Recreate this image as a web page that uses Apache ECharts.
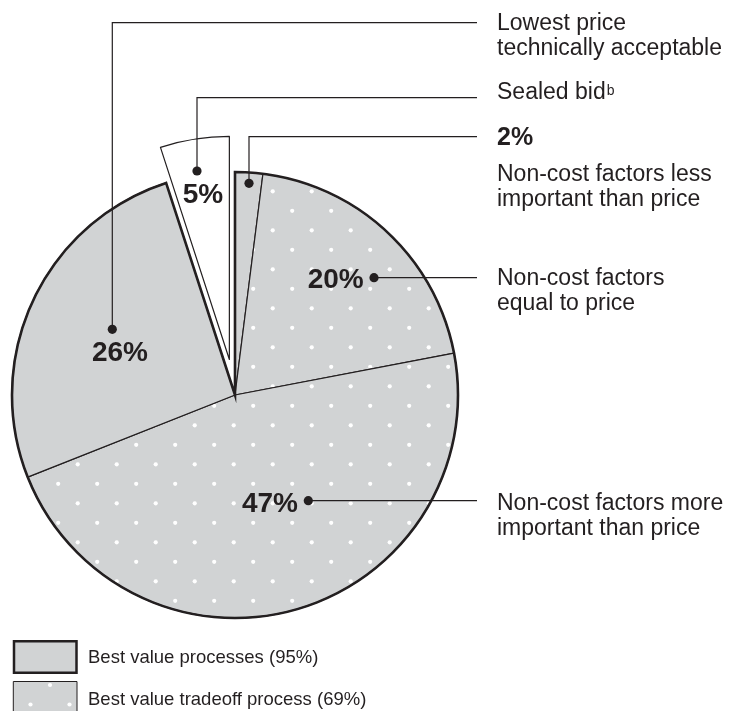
<!DOCTYPE html>
<html><head><meta charset="utf-8">
<script src="https://cdn.jsdelivr.net/npm/echarts@6/dist/echarts.min.js"></script>
<style>html,body{margin:0;padding:0;background:#fff}#c{width:734px;height:711px}</style>
</head><body><div id="c"></div>
<script>
// ---- data ----
const categories = [
  'Non-cost factors less important than price',
  'Non-cost factors equal to price',
  'Non-cost factors more important than price',
  'Lowest price technically acceptable',
  'Sealed bid'
];
const values = [2, 20, 47, 26, 5];
const calloutText = [
  ['Non-cost factors less', 'important than price'],
  ['Non-cost factors', 'equal to price'],
  ['Non-cost factors more', 'important than price'],
  ['Lowest price', 'technically acceptable'],
  ['Sealed bid']
];
const footnoteMark = ['', '', '', '', 'b'];
const legendLabels = ['Best value processes (95%)', 'Best value tradeoff process (69%)'];

// ---- styles ----
const INK = '#231f20';
const GRAY = '#d1d3d4';
const FONT = '"Liberation Sans", Arial, Helvetica, sans-serif';

function dotTile(pts) {
  const c = document.createElement('canvas');
  c.width = 39; c.height = 39;
  const g = c.getContext('2d');
  g.fillStyle = GRAY; g.fillRect(0, 0, 39, 39);
  g.fillStyle = '#ffffff';
  for (const [x, y] of pts) for (const dx of [-39, 0, 39]) for (const dy of [-39, 0, 39]) {
    g.beginPath(); g.arc(x + dx, y + dy, 2.1, 0, Math.PI * 2); g.fill();
  }
  return c;
}
const piePattern = { image: dotTile([[38.7, 35.3], [19.2, 15.8]]), repeat: 'repeat' };
const legendPattern = { image: dotTile([[11, 22], [30.5, 2.5]]), repeat: 'repeat' };
const sliceFill = [GRAY, piePattern, piePattern, GRAY, '#ffffff'];

const CENTER = [235, 395];
const RADIUS = 223;

// Best value processes = all but sealed bid
const bestValueTotal = values.slice(0, 4).reduce((a, b) => a + b, 0);
const groupValues = [bestValueTotal, values[4]];

// ---- annotation layout (label anchors) ----
const RIGHT_X = 497, LINE_END = 477;
const callouts = [
  { pct: [497, 138.5], pctAlign: 'left', pctSize: 25, dot: [249, 183.3], path: [[249, 183.3], [249, 136.7], [LINE_END, 136.7]], textY: 174.2 },
  { pct: [335.7, 280], pctAlign: 'center', pctSize: 28, dot: [374, 277.7], path: [[374, 277.7], [LINE_END, 277.7]], textY: 278.3 },
  { pct: [270, 504], pctAlign: 'center', pctSize: 28, dot: [308.3, 500.7], path: [[308.3, 500.7], [LINE_END, 500.7]], textY: 503.9 },
  { pct: [120, 353], pctAlign: 'center', pctSize: 28, dot: [112.3, 329.3], path: [[112.3, 329.3], [112.3, 22.7], [LINE_END, 22.7]], textY: 23.5 },
  { pct: [203, 195], pctAlign: 'center', pctSize: 28, dot: [197, 171], path: [[197, 171], [197, 97.7], [LINE_END, 97.7]], textY: 92.5 }
];

const LABEL_SIZE = 23, LABEL_LH = 25;
const measure = document.createElement('canvas').getContext('2d');

const elements = [];
callouts.forEach((c, i) => {
  elements.push({ type: 'polyline', silent: true, z: 10, shape: { points: c.path }, style: { stroke: INK, lineWidth: 1.2, fill: null } });
  elements.push({ type: 'circle', silent: true, z: 11, shape: { cx: c.dot[0], cy: c.dot[1], r: 4.6 }, style: { fill: INK } });
  elements.push({ type: 'text', silent: true, z: 11, x: c.pct[0], y: c.pct[1], style: {
    text: values[i] + '%', fontSize: c.pctSize, fontWeight: 'bold', fontFamily: FONT, fill: INK,
    align: c.pctAlign, textAlign: c.pctAlign, verticalAlign: 'middle', textVerticalAlign: 'middle' } });
  const lines = calloutText[i];
  elements.push({ type: 'text', silent: true, z: 11, x: RIGHT_X, y: c.textY - LABEL_LH / 2, style: {
    text: lines.join('\n'), fontSize: LABEL_SIZE, fontFamily: FONT, fill: INK, lineHeight: LABEL_LH,
    align: 'left', textAlign: 'left', verticalAlign: 'top', textVerticalAlign: 'top' } });
  if (footnoteMark[i]) {
    measure.font = LABEL_SIZE + 'px ' + FONT;
    const w = measure.measureText(lines[0]).width;
    elements.push({ type: 'text', silent: true, z: 11, x: RIGHT_X + w + 1, y: c.textY - 8.5, style: {
      text: footnoteMark[i], fontSize: 14, fontFamily: FONT, fill: INK,
      align: 'left', textAlign: 'left', verticalAlign: 'top', textVerticalAlign: 'top' } });
  }
});

// legend
elements.push({ type: 'rect', silent: true, shape: { x: 14, y: 641.2, width: 62.5, height: 31.5 }, style: { fill: GRAY, stroke: INK, lineWidth: 2.5 } });
elements.push({ type: 'rect', silent: true, shape: { x: 13.3, y: 681.5, width: 63.7, height: 40 }, style: { fill: legendPattern, stroke: INK, lineWidth: 1 } });
[658.3, 699.5].forEach((y, i) => {
  elements.push({ type: 'text', silent: true, x: 88, y: y, style: {
    text: legendLabels[i], fontSize: 18.5, fontFamily: FONT, fill: INK,
    align: 'left', textAlign: 'left', verticalAlign: 'middle', textVerticalAlign: 'middle' } });
});

const chart = echarts.init(document.getElementById('c'), null, { renderer: 'canvas' });
chart.setOption({
  animation: false,
  backgroundColor: '#ffffff',
  series: [
    {
      type: 'pie', center: CENTER, radius: RADIUS, startAngle: 90, clockwise: true,
      selectedMode: 'single', selectedOffset: 36, silent: true,
      label: { show: false }, labelLine: { show: false }, emphasis: { disabled: true },
      data: values.map((v, i) => ({
        name: categories[i], value: v, selected: i === 4,
        itemStyle: { color: sliceFill[i], borderColor: INK, borderWidth: 1.2 },
        select: { itemStyle: { color: sliceFill[i], borderColor: INK, borderWidth: 1.2 } }
      }))
    },
    {
      type: 'pie', center: CENTER, radius: RADIUS, startAngle: 90, clockwise: true,
      silent: true, label: { show: false }, labelLine: { show: false }, emphasis: { disabled: true },
      data: [
        { name: 'Best value processes', value: groupValues[0], itemStyle: { color: 'rgba(0,0,0,0)', borderColor: INK, borderWidth: 2.6, borderJoin: 'miter' } },
        { name: 'Sealed bid (group)', value: groupValues[1], itemStyle: { color: 'rgba(0,0,0,0)', borderWidth: 0 } }
      ]
    }
  ],
  graphic: { elements: elements }
});
</script>
</body></html>
